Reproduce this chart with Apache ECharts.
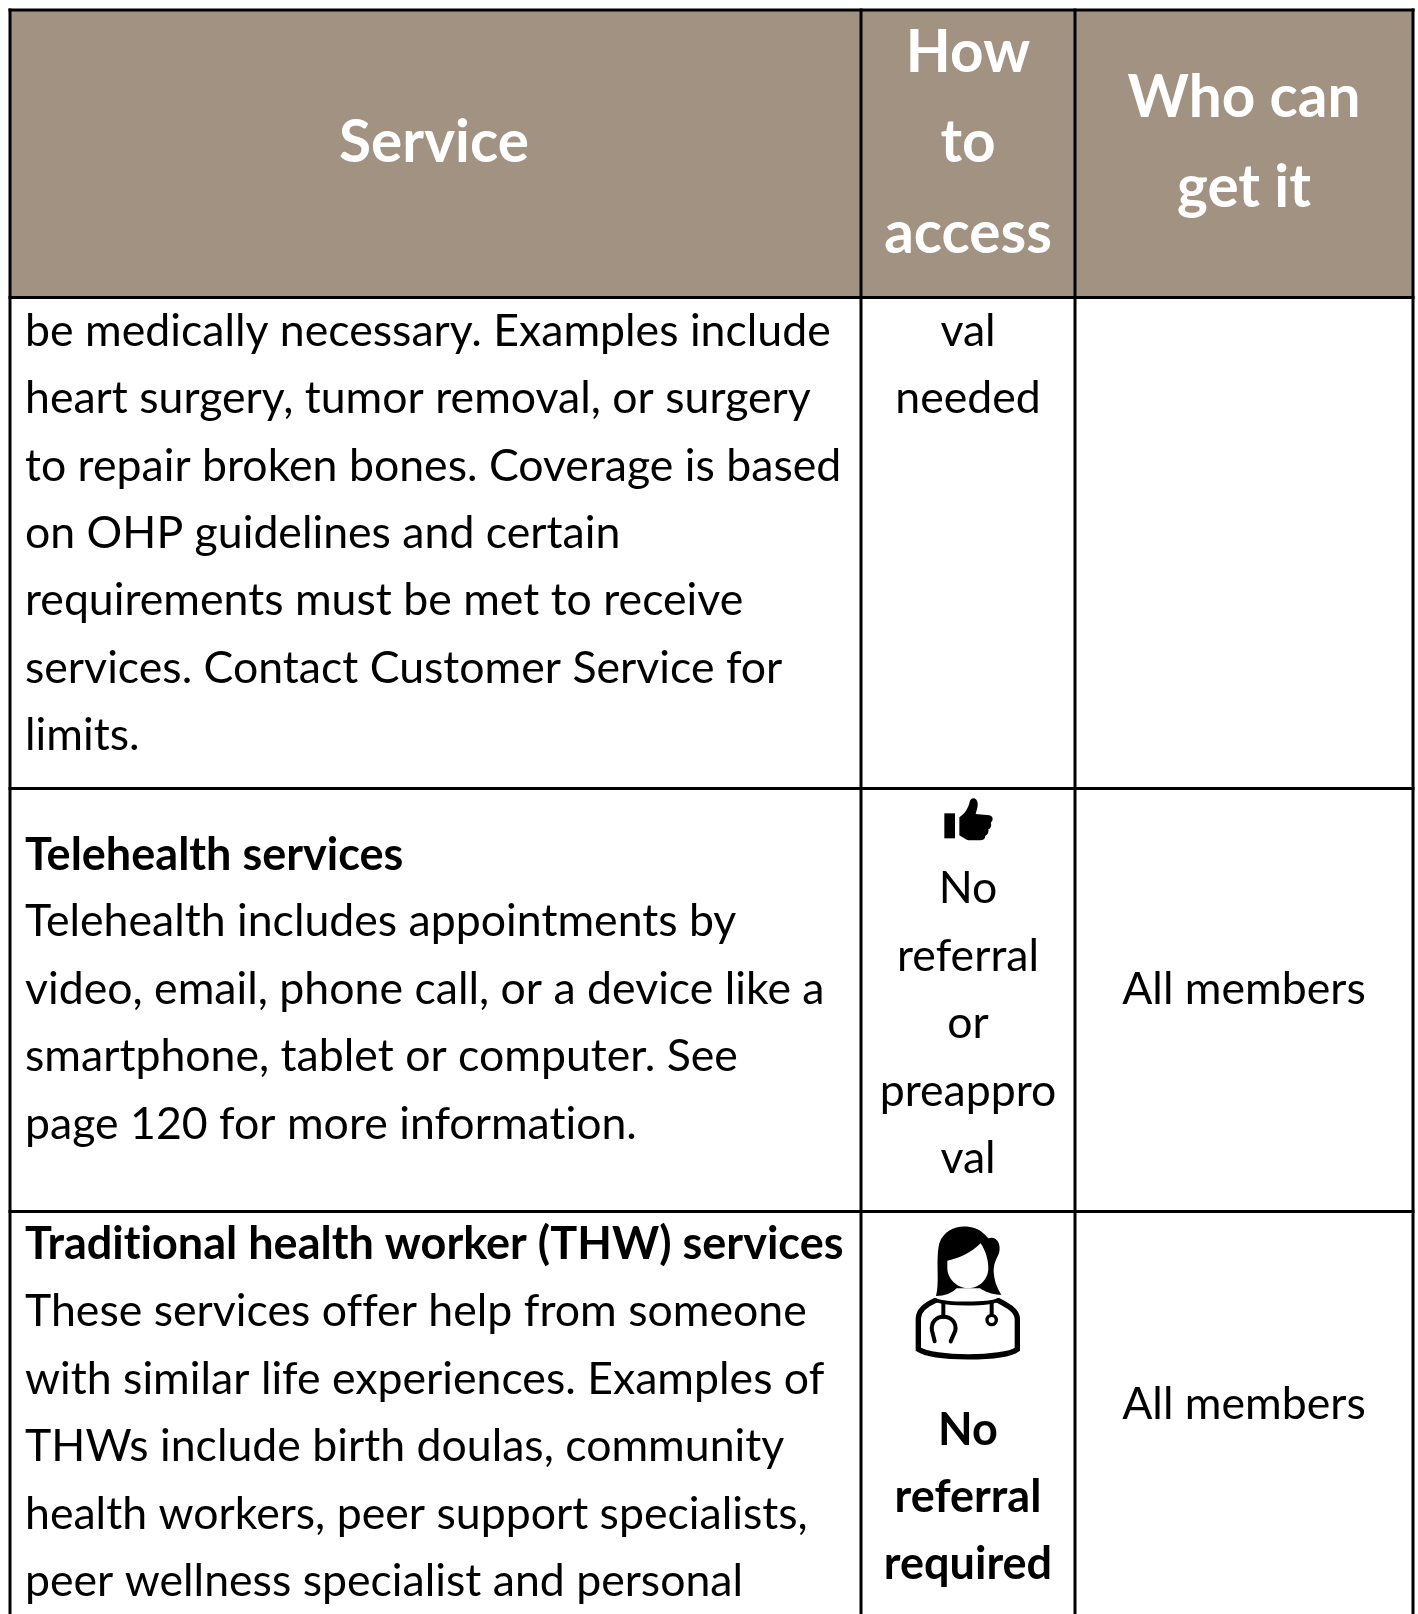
<!DOCTYPE html>
<html>
<head>
<meta charset="utf-8">
<script src="https://cdn.jsdelivr.net/npm/echarts@6/dist/echarts.min.js"></script>
<style>
html, body { margin: 0; padding: 0; background: #fff; }
#chart-container { width: 1418px; height: 1614px; }
</style>
</head>
<body>
<div id="chart-container"></div>
<script>
var serviceHeader = ["Service"];
var accessHeader = ["How", "to", "access"];
var whoHeader = ["Who can", "get it"];

var surgeryLines = [
  "be medically necessary. Examples include",
  "heart surgery, tumor removal, or surgery",
  "to repair broken bones. Coverage is based",
  "on OHP guidelines and certain",
  "requirements must be met to receive",
  "services. Contact Customer Service for",
  "limits."
];
var surgeryAccess = ["val", "needed"];

var telehealthTitle = ["Telehealth services"];
var telehealthLines = [
  "Telehealth includes appointments by",
  "video, email, phone call, or a device like a",
  "smartphone, tablet or computer. See",
  "page 120 for more information."
];
var telehealthAccess = ["No", "referral", "or", "preappro", "val"];
var telehealthWho = ["All members"];

var thwTitle = ["Traditional health worker (THW) services"];
var thwLines = [
  "These services offer help from someone",
  "with similar life experiences. Examples of",
  "THWs include birth doulas, community",
  "health workers, peer support specialists,",
  "peer wellness specialist and personal"
];
var thwAccess = ["No", "referral", "required"];
var thwWho = ["All members"];

var colEdges = [10, 861, 1075, 1413];
var rowEdges = [10, 297.5, 788.5, 1211.5, 1614];
var headerColor = "#a29282";
var lineStep = 67.4;
var headStep = 90.5;
var font = "Lato";
var bodySize = 44.6;
var boldSize = 45;
var headSize = 58.5;

// Lato's "ti" ligature is not in the reference, a tiny letter spacing turns it off
var getContext = HTMLCanvasElement.prototype.getContext;
HTMLCanvasElement.prototype.getContext = function () {
  var ctx = getContext.apply(this, arguments);
  if (ctx && "letterSpacing" in ctx) ctx.letterSpacing = "0.01px";
  return ctx;
};

var dom = document.getElementById("chart-container");
var myChart = echarts.init(dom, null, { renderer: "canvas" });

// [x, y of first line, lines, align, weight, size, color, step]
var blocks = [
  [434, 143, serviceHeader, "center", "bold", headSize, "#fff", headStep],
  [968, 53, accessHeader, "center", "bold", headSize, "#fff", headStep],
  [1244, 98, whoHeader, "center", "bold", headSize, "#fff", headStep],
  [25, 331.5, surgeryLines, "left", "normal", bodySize, "#000", lineStep],
  [968, 331.5, surgeryAccess, "center", "normal", bodySize, "#000", lineStep],
  [25, 855, telehealthTitle, "left", "bold", boldSize, "#000", lineStep],
  [25, 922, telehealthLines, "left", "normal", bodySize, "#000", lineStep],
  [968, 889, telehealthAccess, "center", "normal", bodySize, "#000", lineStep],
  [1244, 990, telehealthWho, "center", "normal", bodySize, "#000", lineStep],
  [25, 1244, thwTitle, "left", "bold", boldSize, "#000", lineStep],
  [25, 1312, thwLines, "left", "normal", bodySize, "#000", lineStep],
  [968, 1430, thwAccess, "center", "bold", boldSize, "#000", lineStep],
  [1244, 1405, thwWho, "center", "normal", bodySize, "#000", lineStep]
];

var labelData = [];
blocks.forEach(function (b) {
  b[2].forEach(function (line, i) {
    labelData.push([b[0], b[1] + i * b[7], line, b[3], b[4], b[5], b[6]]);
  });
});

function rawPath(d, style) {
  var r = echarts.graphic.makePath(d, {}, null).getBoundingRect();
  return {
    type: "path",
    shape: { pathData: d, x: r.x, y: r.y, width: r.width, height: r.height, layout: "cover" },
    style: style
  };
}

function thumbIcon() {
  return {
    type: "group", x: 900, y: 780, scaleX: 1 / 3, scaleY: 1 / 3,
    children: [
      { type: "rect", shape: { x: 133, y: 100, width: 32, height: 75 }, style: { fill: "#000" } },
      rawPath("M178 112 C195 100 205 85 210 62 C214 50 232 52 233 70 C234 85 228 95 227 102 L268 106 C280 108 281 122 272 128 C276 136 272 146 265 148 C267 158 262 165 256 167 C256 176 250 181 240 181 L205 181 C195 178 185 170 178 166 Z", { fill: "#000" })
    ]
  };
}

function doctorIcon() {
  var line = { fill: null, stroke: "#000", lineWidth: 16, lineCap: "round" };
  var thin = { fill: null, stroke: "#000", lineWidth: 12, lineCap: "round" };
  return {
    type: "group", x: 890, y: 1210, scaleX: 1 / 3, scaleY: 1 / 3,
    children: [
      rawPath("M138 258 C150 220 136 150 148 100 C165 52 215 42 255 55 C275 62 285 75 295 85 C322 76 334 105 327 130 C318 150 308 165 312 195 C315 220 325 240 334 254 C310 256 285 245 270 235 L200 235 C185 250 165 258 138 258 Z", { fill: "#000" }),
      rawPath("M172 152 C200 148 245 128 272 100 C288 125 295 150 295 175 C295 210 265 235 235 235 C200 235 172 205 172 175 Z", { fill: "#fff" }),
      rawPath("M135 272 C105 285 86 300 85 325 L85 418 C130 448 340 448 382 418 L382 325 C380 300 350 285 325 272", line),
      rawPath("M135 270 C170 284 295 284 325 270", { fill: null, stroke: "#000", lineWidth: 12, lineCap: "round" }),
      { type: "line", shape: { x1: 160, y1: 280, x2: 160, y2: 320 }, style: thin },
      rawPath("M134 394 L126 362 C122 335 140 320 160 320 C182 320 200 335 196 362 L182 394", thin),
      { type: "line", shape: { x1: 305, y1: 280, x2: 305, y2: 312 }, style: thin },
      { type: "circle", shape: { cx: 305, cy: 330, r: 14 }, style: { fill: "#fff", stroke: "#000", lineWidth: 10 } }
    ]
  };
}

var option = {
  animation: false,
  backgroundColor: "#fff",
  grid: { left: 0, right: 0, top: 0, bottom: 0 },
  xAxis: { type: "value", min: 0, max: 1418, show: false },
  yAxis: { type: "value", min: 0, max: 1614, inverse: true, show: false },
  series: [
    {
      // header fill
      type: "custom",
      coordinateSystem: "cartesian2d",
      silent: true,
      data: [[colEdges[0], rowEdges[0], colEdges[3], rowEdges[1]]],
      renderItem: function (params, api) {
        var a = api.coord([api.value(0), api.value(1)]);
        var b = api.coord([api.value(2), api.value(3)]);
        return { type: "rect", shape: { x: a[0], y: a[1], width: b[0] - a[0], height: b[1] - a[1] }, style: { fill: headerColor } };
      }
    },
    {
      // table rules
      type: "custom",
      coordinateSystem: "cartesian2d",
      silent: true,
      data: colEdges.map(function (x) { return [x, rowEdges[0], x, rowEdges[4]]; })
        .concat(rowEdges.slice(0, 4).map(function (y) { return [colEdges[0], y, colEdges[3], y]; })),
      renderItem: function (params, api) {
        var a = api.coord([api.value(0), api.value(1)]);
        var b = api.coord([api.value(2), api.value(3)]);
        return { type: "line", shape: { x1: a[0], y1: a[1], x2: b[0], y2: b[1] }, style: { stroke: "#000", lineWidth: 3, lineCap: "square" } };
      }
    },
    {
      type: "custom",
      coordinateSystem: "cartesian2d",
      silent: true,
      data: labelData,
      renderItem: function (params, api) {
        var d = labelData[params.dataIndex];
        var p = api.coord([d[0], d[1]]);
        return {
          type: "text",
          style: {
            x: p[0], y: p[1], text: d[2], fill: d[6],
            font: d[4] + " " + d[5] + "px " + font,
            textAlign: d[3], textVerticalAlign: "middle"
          }
        };
      }
    },
    {
      type: "custom",
      coordinateSystem: "cartesian2d",
      silent: true,
      data: [[0]],
      renderItem: function () {
        return { type: "group", children: [thumbIcon(), doctorIcon()] };
      }
    }
  ]
};

myChart.setOption(option);
window.addEventListener("resize", myChart.resize);
</script>
</body>
</html>
